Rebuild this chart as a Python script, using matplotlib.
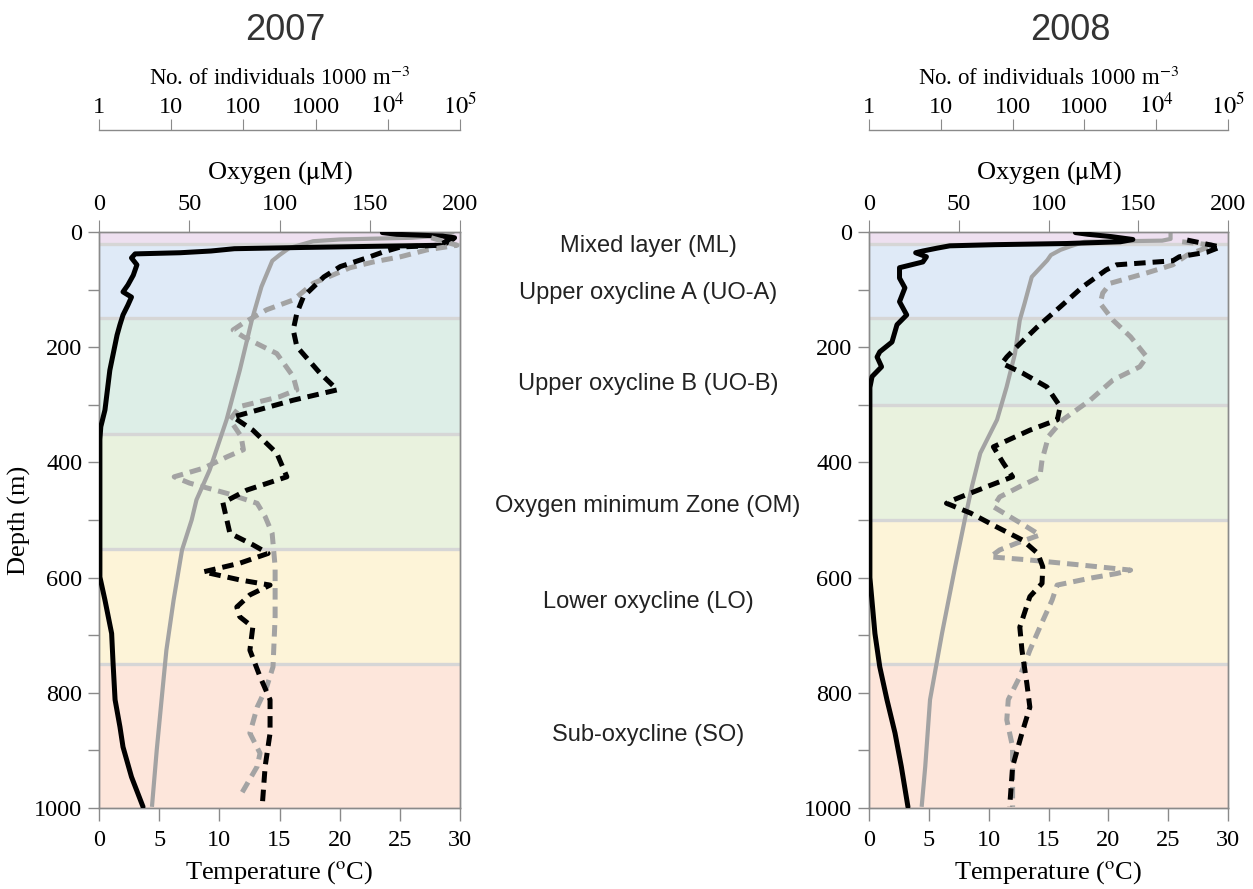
import matplotlib
matplotlib.use("Agg")
import matplotlib.pyplot as plt
from matplotlib.ticker import FixedLocator, NullLocator, FixedFormatter

plt.rcParams['font.family'] = ['Liberation Serif', 'DejaVu Serif']
plt.rcParams['mathtext.fontset'] = 'stix'

# ---------------- data ----------------
years = ["2007", "2008"]

# 2007 oxygen (uM) vs depth (m)
oxy07_depth = [1, 4, 7, 10, 15, 20, 23, 25, 27, 29, 33, 36, 38, 45, 57, 75, 92, 104, 113, 127,
               144, 161, 179, 240, 309, 338, 360, 450, 550, 599, 639, 697, 749, 812, 859, 894, 946, 998]
oxy07 = [157, 165, 190, 197, 195, 192, 190, 150, 110, 75, 62, 45, 20, 18, 21, 19, 16, 13.3, 18, 16,
         13.3, 11.6, 10, 6, 3.3, 1, 0.5, 0.5, 0.5, 0.5, 3.3, 7, 7.8, 8.9, 11.6, 13.3, 18, 24.4]

# 2007 temperature (C)
temp07_depth = [0, 6, 10, 13, 16, 22, 28, 40, 50, 95, 153, 240, 326, 413, 465, 500, 552, 639, 726, 812, 899, 998]
temp07 = [29.5, 28.5, 26, 20, 17.8, 16.8, 15.8, 15.0, 14.4, 13.5, 12.7, 11.7, 10.6, 9.2, 8.1, 7.7, 6.9,
          6.2, 5.6, 5.2, 4.8, 4.4]

# 2007 abundance (individuals 1000 m^-3), black dashed
abA07_depth = [9, 23, 26, 35, 45, 60, 78, 112, 141, 170, 199, 245, 274, 292, 321, 344, 384, 425, 448,
               470, 523, 543, 558, 575, 590, 604, 613, 630, 651, 668, 686, 726, 772, 812, 870, 928, 998]
abA07 = [79000, 52000, 15000, 8500, 5100, 2200, 1300, 680, 550, 490, 550, 1150, 2000, 490, 72, 135, 290,
         400, 112, 52, 65, 135, 220, 89, 28, 89, 234, 123, 81, 89, 135, 123, 170, 234, 234, 200, 182]

# 2007 abundance, grey dashed
abB07_depth = [10, 23, 31, 43, 52, 62, 89, 118, 135, 158, 170, 182, 211, 251, 274, 286, 303, 326, 355,
               378, 390, 410, 425, 436, 454, 471, 494, 523, 581, 668, 755, 790, 825, 870, 905, 928, 974]
abB07 = [40000, 91000, 35000, 15000, 6300, 3000, 930, 490, 210, 100, 72, 100, 290, 490, 550, 316, 89, 65,
         93, 100, 60, 28, 11, 18, 60, 155, 200, 250, 275, 275, 257, 210, 155, 123, 170, 155, 95]

# 2008 oxygen
oxy08_depth = [1, 4, 8, 13, 17, 20, 22, 24, 28, 33, 36, 43, 52, 62, 80, 97, 121, 144, 161, 191, 208,
               217, 234, 251, 270, 600, 697, 755, 812, 870, 928, 998]
oxy08 = [115, 122, 135, 147, 140, 110, 70, 45, 38, 30, 26, 32, 30, 17, 17, 20, 17, 21, 15.6, 12.8, 6,
         4.5, 7, 1.7, 0.5, 0.5, 3.3, 6, 10, 14.5, 18, 21.7]

# 2008 temperature
temp08_depth = [0, 12, 15, 17, 25, 31, 40, 49, 78, 124, 153, 211, 269, 326, 384, 442, 500, 581, 697, 812, 928, 998]
temp08 = [25.2, 25.2, 24.5, 18, 16.8, 16, 15.2, 14.9, 13.6, 13.0, 12.6, 12.2, 11.5, 10.7, 9.3, 8.6, 8.0,
          7.2, 6.1, 5.1, 4.7, 4.4]

# 2008 abundance, black dashed
abA08_depth = [14, 26, 35, 43, 50, 57, 66, 95, 130, 165, 199, 217, 228, 245, 269, 303, 326, 344, 373,
               401, 425, 442, 465, 471, 488, 512, 535, 558, 581, 610, 633, 686, 726, 784, 825, 870, 928, 998]
abA08 = [27000, 78000, 51000, 21000, 17000, 2800, 2000, 950, 460, 220, 115, 83, 71, 138, 300, 460, 420,
         174, 54, 74, 100, 44, 15, 12, 26, 60, 138, 224, 263, 257, 174, 126, 135, 158, 174, 135, 100, 91]

# 2008 abundance, grey dashed
abB08_depth = [17, 23, 40, 57, 71, 89, 106, 124, 153, 182, 217, 234, 257, 292, 326, 355, 396, 425, 442,
               460, 477, 494, 512, 526, 540, 552, 564, 569, 578, 587, 593, 601, 613, 639, 686, 726, 772,
               812, 847, 894, 957, 998]
abB08 = [23000, 62000, 27000, 17000, 7400, 2300, 1800, 1660, 2500, 4400, 7400, 5900, 2500, 1200, 500,
         316, 257, 240, 126, 66, 54, 91, 158, 240, 115, 66, 49, 158, 870, 4400, 2800, 1200, 417, 355, 240,
         174, 126, 87, 83, 100, 100, 100]

# depth zones (boundaries) and colours
zones07 = [0, 20, 150, 350, 550, 750, 1000]
zones08 = [0, 20, 150, 300, 500, 750, 1000]
zone_colors = ['#eee0f0', '#dfeaf7', '#ddeee7', '#e9f2de', '#fdf4d8', '#fde6db']

zone_names = ["Mixed layer (ML)", "Upper oxycline A (UO-A)", "Upper oxycline B (UO-B)",
              "Oxygen minimum Zone (OM)", "Lower oxycline (LO)", "Sub-oxycline (SO)"]
zone_label_y = [246, 293, 384, 506, 602, 735]   # pixel rows of the centre labels

ind_ticks = [1, 10, 100, 1000, 1e4, 1e5]
ind_ticklabels = ['1', '10', '100', '1000', r'$10^4$', r'$10^5$']

# ---------------- figure ----------------
W, H = 1253, 889
fig = plt.figure(figsize=(W / 100, H / 100), dpi=100)

SPINE = '#8a8a8a'
GREY_LINE = '#a3a3a3'
TICKFS = 17.5
LABFS = 19


def make_panel(x0, x1, title, title_x, zones, od, ov, td, tv, ad, av, bd, bv, ylabel):
    top, bot = 232, 808
    rect = [x0 / W, 1 - bot / H, (x1 - x0) / W, (bot - top) / H]
    ax = fig.add_axes(rect)
    ax.set_xlim(0, 30)
    ax.set_ylim(1000, 0)
    for i in range(len(zones) - 1):
        ax.axhspan(zones[i], zones[i + 1], color=zone_colors[i], lw=0, zorder=0)
    for z in zones[1:-1]:
        ax.axhline(z, color='#d6d6d6', lw=2.4, zorder=0.5)
    ax.plot(tv, td, color=GREY_LINE, lw=3.0, solid_capstyle='butt', zorder=2)

    ax.xaxis.set_major_locator(FixedLocator([0, 5, 10, 15, 20, 25, 30]))
    ax.yaxis.set_major_locator(FixedLocator([0, 200, 400, 600, 800, 1000]))
    ax.yaxis.set_minor_locator(FixedLocator([100, 300, 500, 700, 900]))
    ax.tick_params(axis='both', which='both', direction='out', color=SPINE, width=1,
                   labelsize=TICKFS)
    ax.tick_params(axis='x', length=9, pad=7)
    ax.tick_params(axis='y', which='both', length=8, pad=4)
    ax.set_xlabel(r'Temperature ($^{\rm o}$C)', fontsize=LABFS, labelpad=6)
    if ylabel:
        ax.set_ylabel('Depth (m)', fontsize=LABFS, labelpad=2)
    for s in ax.spines.values():
        s.set_color(SPINE)
        s.set_linewidth(1)

    # oxygen axis (top)
    ax_o = ax.twiny()
    ax_o.set_xlim(0, 200)
    ax_o.plot(ov, od, color='black', lw=3.6, solid_capstyle='round', solid_joinstyle='round', zorder=3)
    ax_o.xaxis.set_major_locator(FixedLocator([0, 50, 100, 150, 200]))
    ax_o.tick_params(axis='x', direction='out', length=9, pad=3, color=SPINE, labelsize=TICKFS)
    ax_o.set_xlabel(r'Oxygen ($\mathrm{\mu}$M)', fontsize=LABFS, labelpad=11)
    for s in ax_o.spines.values():
        s.set_color(SPINE)
        s.set_linewidth(1)

    # individuals axis (log, far top)
    ax_n = ax.twiny()
    ax_n.set_xscale('log')
    ax_n.set_xlim(1, 1e5)
    ax_n.plot(bv, bd, color=GREY_LINE, lw=3.6, dashes=(2.3, 1.4), zorder=4)
    ax_n.plot(av, ad, color='black', lw=3.6, dashes=(2.3, 1.4), zorder=5)
    ax_n.xaxis.set_major_locator(FixedLocator(ind_ticks))
    ax_n.xaxis.set_major_formatter(FixedFormatter(ind_ticklabels))
    ax_n.xaxis.set_minor_locator(NullLocator())
    ax_n.tick_params(axis='x', direction='out', length=8, pad=0.5, color=SPINE, labelsize=TICKFS)
    for k in ['left', 'right', 'bottom']:
        ax_n.spines[k].set_visible(False)
    ax_n.spines['top'].set_color(SPINE)
    ax_n.spines['top'].set_linewidth(1)
    ax_n.spines['top'].set_position(('outward', (top - 130) * 0.72))
    ax_n.set_xlabel(r'No. of individuals 1000 m$^{-3}$', fontsize=16.5, labelpad=5)

    fig.text(title_x / W, 1 - 30 / H, title, ha='center', va='center', fontsize=26,
             family=['Liberation Sans', 'DejaVu Sans'], color='#333333')
    return ax


make_panel(99, 460, years[0], 285, zones07, oxy07_depth, oxy07, temp07_depth, temp07,
           abA07_depth, abA07, abB07_depth, abB07, True)
make_panel(869, 1228, years[1], 1070, zones08, oxy08_depth, oxy08, temp08_depth, temp08,
           abA08_depth, abA08, abB08_depth, abB08, False)

for name, yp in zip(zone_names, zone_label_y):
    fig.text(648 / W, 1 - yp / H, name, ha='center', va='center', fontsize=17,
             family=['Liberation Sans', 'DejaVu Sans'], color='#222222')

fig.savefig('out.png', dpi=100, facecolor='white')
